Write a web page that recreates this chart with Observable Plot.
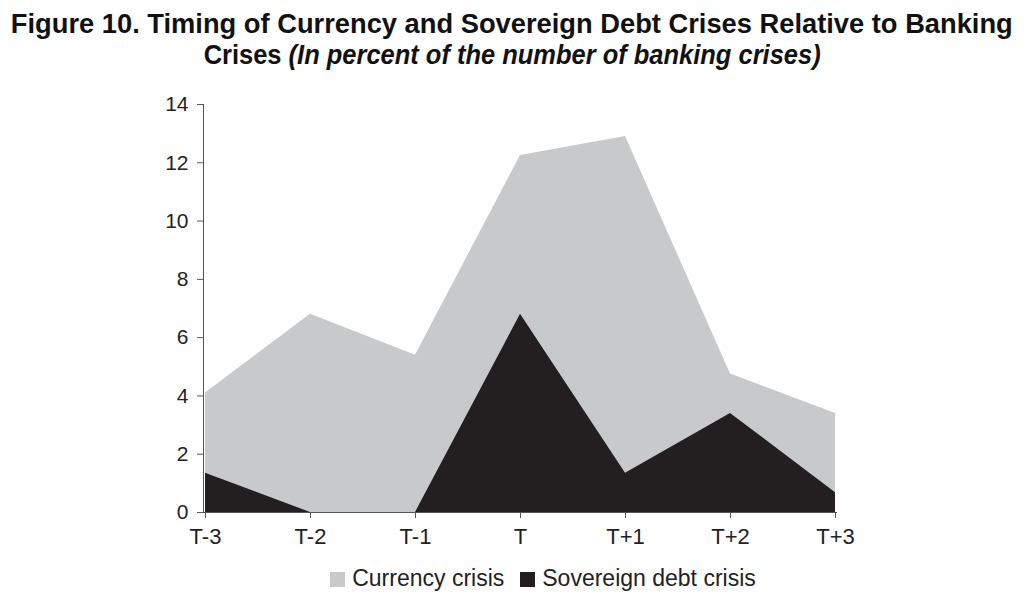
<!DOCTYPE html>
<html>
<head>
<meta charset="utf-8">
<script src="https://cdn.jsdelivr.net/npm/d3@7"></script>
<script src="https://cdn.jsdelivr.net/npm/@observablehq/plot@0.6"></script>
<style>
  html, body { margin: 0; padding: 0; background: #fff; }
  body { width: 1024px; height: 599px; overflow: hidden; position: relative; }
  #title { position: absolute; left: 0; top: 8px; width: 1024px;
           font-family: "Liberation Sans", Arial, sans-serif; font-weight: bold; font-size: 27.5px;
           line-height: 31px; color: #111; }
  #title .line { display: flex; justify-content: center; white-space: nowrap; width: 1024px; height: 31px; }
  #title .inner { display: inline-block; flex: none; transform-origin: 50% 50%; }
  #chart { position: absolute; left: 0; top: 80px; }
  #legend { position: absolute; left: 31px; top: 564px; width: 1024px; text-align: center;
            font-family: "Liberation Sans", Arial, sans-serif; font-size: 23px; line-height: 28px; color: #222; }
  #legend .sw { display: inline-block; width: 15px; height: 15px; margin-right: 7px; vertical-align: -1px; }
  #legend .item { margin: 0 8px; }
</style>
</head>
<body>
<div id="title">
  <div class="line"><span class="inner">Figure 10. Timing of Currency and Sovereign Debt Crises Relative to Banking</span></div>
  <div class="line"><span class="inner">Crises <i>(In percent of the number of banking crises)</i></span></div>
</div>
<div id="chart"></div>
<div id="legend"></div>
<script>
const periods = ["T-3", "T-2", "T-1", "T", "T+1", "T+2", "T+3"];
const currencyCrisis = [4.1, 6.8, 5.4, 12.25, 12.9, 4.75, 3.4];
const sovereignDebtCrisis = [1.35, 0, 0, 6.8, 1.35, 3.4, 0.68];
const yTicks = [0, 2, 4, 6, 8, 10, 12, 14];
const seriesNames = ["Currency crisis", "Sovereign debt crisis"];
const seriesColors = ["#c8c9cb", "#231f20"];

const data = periods.map((p, i) => ({period: p, currency: currencyCrisis[i], sovereign: sovereignDebtCrisis[i]}));

const plot = Plot.plot({
  width: 1024,
  height: 472,
  marginTop: 24,
  marginBottom: 40,
  marginLeft: 203,
  marginRight: 188,
  style: { fontFamily: "'Liberation Sans', Arial, sans-serif", fontSize: "21px", color: "#222", background: "#fff" },
  x: { type: "point", domain: periods, padding: 0, label: null },
  y: { domain: [0, 14], label: null },
  marks: [
    Plot.areaY(data, { x: "period", y1: 0, y2: "currency", fill: seriesColors[0] }),
    Plot.areaY(data, { x: "period", y1: 0, y2: "sovereign", fill: seriesColors[1] }),
    Plot.axisY({ ticks: yTicks, tickSize: 6, tickPadding: 9, stroke: "#555", fill: "#222", fontSize: 21, label: null }),
    Plot.axisX({ ticks: periods, tickSize: 6, tickPadding: 10, stroke: "#555", fill: "#222", fontSize: 22, label: null }),
    Plot.frame({ anchor: "left", stroke: "#555" }),
    Plot.frame({ anchor: "bottom", stroke: "#555" })
  ]
});
document.getElementById("chart").appendChild(plot);

const legend = document.getElementById("legend");
seriesNames.forEach((n, i) => {
  const item = document.createElement("span");
  item.className = "item";
  const sw = document.createElement("span");
  sw.className = "sw";
  sw.style.background = seriesColors[i];
  item.appendChild(sw);
  item.appendChild(document.createTextNode(n));
  legend.appendChild(item);
});

// compress title lines to match the condensed face of the original
const inners = document.querySelectorAll("#title .inner");
const targets = [1002, 617];
inners.forEach((el, i) => {
  const w = el.getBoundingClientRect().width;
  const s = Math.min(1, targets[i] / w);
  el.style.transform = `scaleX(${s})`;
});
</script>
</body>
</html>
